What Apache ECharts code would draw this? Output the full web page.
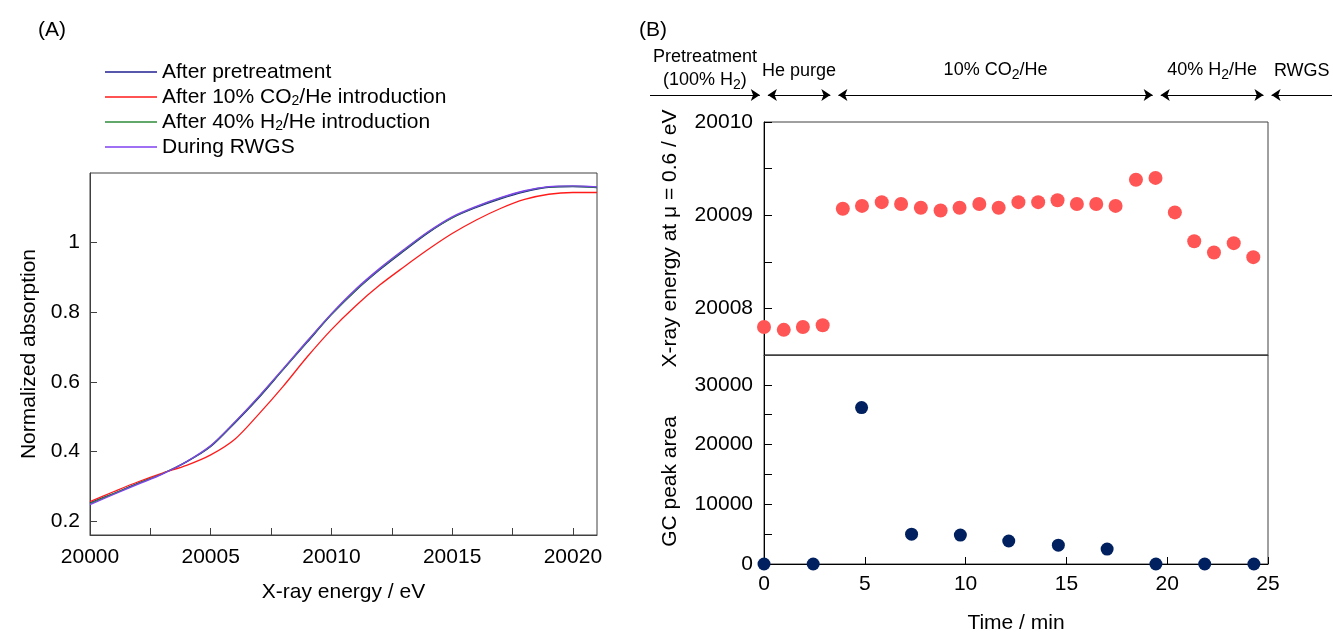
<!DOCTYPE html>
<html>
<head>
<meta charset="utf-8">
<script src="https://cdn.jsdelivr.net/npm/echarts@6/dist/echarts.min.js"></script>
<style>
  html, body { margin: 0; padding: 0; background: #fff; }
  #chart { width: 1333px; height: 635px; }
</style>
</head>
<body>
<div id="chart"></div>
<script>
// (A) XANES spectra at 1 eV steps
const energy = [20000, 20001, 20002, 20003, 20004, 20005, 20006, 20007, 20008, 20009, 20010,
  20011, 20012, 20013, 20014, 20015, 20016, 20017, 20018, 20019, 20020, 20021];
const afterPretreatment = [0.252, 0.280, 0.309, 0.336, 0.370, 0.414, 0.482, 0.555, 0.635, 0.714, 0.793,
  0.862, 0.922, 0.976, 1.028, 1.071, 1.101, 1.126, 1.146, 1.159, 1.161, 1.158];
const afterCO2 = [0.256, 0.285, 0.313, 0.338, 0.360, 0.390, 0.435, 0.508, 0.587, 0.672, 0.750,
  0.818, 0.878, 0.930, 0.980, 1.026, 1.065, 1.098, 1.124, 1.139, 1.144, 1.144];
const afterH2 = [0.250, 0.279, 0.308, 0.336, 0.371, 0.416, 0.484, 0.557, 0.636, 0.716, 0.794,
  0.863, 0.924, 0.978, 1.030, 1.072, 1.103, 1.128, 1.148, 1.160, 1.162, 1.159];
const duringRWGS = [0.247, 0.277, 0.306, 0.335, 0.371, 0.417, 0.485, 0.559, 0.638, 0.718, 0.796,
  0.866, 0.926, 0.980, 1.031, 1.074, 1.104, 1.129, 1.149, 1.161, 1.163, 1.160];

const energyLabels = [20000, 20005, 20010, 20015, 20020];
const energyTicks = [20000, 20002.5, 20005, 20007.5, 20010, 20012.5, 20015, 20017.5, 20020];
const absLabels = [0.2, 0.4, 0.6, 0.8, 1];

// (B) edge energy and GC peak area vs time
const xasTime = [0, 0.98, 1.93, 2.91, 3.91, 4.86, 5.84, 6.8, 7.78, 8.76, 9.7, 10.68, 11.64,
  12.62, 13.6, 14.56, 15.52, 16.48, 17.44, 18.45, 19.42, 20.38, 21.34, 22.32, 23.3, 24.27];
const edgeEnergy = [20007.80, 20007.77, 20007.80, 20007.82, 20009.07, 20009.10, 20009.14, 20009.12,
  20009.08, 20009.05, 20009.08, 20009.12, 20009.08, 20009.14, 20009.14, 20009.16, 20009.12,
  20009.12, 20009.10, 20009.38, 20009.40, 20009.03, 20008.72, 20008.60, 20008.70, 20008.55];
const gcTime = [0, 2.44, 4.84, 7.32, 9.74, 12.14, 14.6, 17.02, 19.44, 21.86, 24.3];
const gcArea = [0, 0, 26200, 5000, 4850, 3850, 3150, 2500, 0, 0, 0];

const timeLabels = [0, 5, 10, 15, 20, 25];
const edgeLabels = [20008, 20009, 20010];
const edgeTicks = [20008, 20008.5, 20009, 20009.5, 20010];
const gcLabels = [0, 10000, 20000, 30000];
const gcTicks = [0, 5000, 10000, 15000, 20000, 25000, 30000];

// gas phases shown on the arrow bar above (B)
const phaseNames = ['Pretreatment\n(100% H2)', 'He purge', '10% CO2/He', '40% H2/He', 'RWGS'];
const phaseStart = [-5.65, 0, 3.5, 19.5, 25];
const phaseEnd = [0, 3.5, 19.5, 25, 28.2];

const font = '"Liberation Sans", Arial, sans-serif';
const subRich = {
  sub: { fontSize: 14, fontFamily: font, color: '#000', verticalAlign: 'bottom', lineHeight: 24 }
};
const withSub = s => s.replace(/(CO|H)2/g, '$1{sub|2}');
const plain = v => String(v);
const axisColor = '#404040';
const fs = 21;

const chart = echarts.init(document.getElementById('chart'));

function tickAxis(extra) {
  return Object.assign({
    type: 'value',
    axisLine: { show: true, lineStyle: { color: axisColor, width: 1 } },
    splitLine: { show: false },
    nameLocation: 'middle',
    nameTextStyle: { fontSize: fs, color: '#000', fontFamily: font }
  }, extra);
}

const pad = 0.2;
const arrowLines = phaseNames.map((name, i) => {
  const first = i === 0, last = i === phaseNames.length - 1;
  return [
    {
      coord: [phaseStart[i] + (first ? 0 : pad), 0.5],
      symbol: first ? 'none' : 'arrow',
      label: {
        show: true,
        position: 'insideMiddleTop',
        distance: first ? 2.5 : 13,
        formatter: withSub(name),
        fontSize: 18,
        lineHeight: 22,
        color: '#000',
        fontFamily: font,
        rich: subRich
      }
    },
    {
      coord: [phaseEnd[i] - (last ? 0 : pad), 0.5],
      symbol: last ? 'none' : 'arrow'
    }
  ];
});

const option = {
  animation: false,
  backgroundColor: '#fff',
  textStyle: { fontFamily: font },
  legend: {
    orient: 'vertical',
    left: 100,
    top: 56,
    icon: 'rect',
    itemWidth: 52,
    itemHeight: 1.5,
    itemGap: 3,
    data: ['After pretreatment', 'After 10% CO2/He introduction', 'After 40% H2/He introduction', 'During RWGS'],
    formatter: name => withSub(name),
    textStyle: { fontSize: fs, color: '#000', fontFamily: font, lineHeight: 22,
      rich: { sub: { fontSize: 14, fontFamily: font, color: '#000', verticalAlign: 'bottom', lineHeight: 22 } } }
  },
  graphic: [
    { type: 'text', left: 38, top: 20, style: { text: '(A)', fontSize: fs, fontFamily: font, fill: '#000' } },
    { type: 'text', left: 639, top: 20, style: { text: '(B)', fontSize: fs, fontFamily: font, fill: '#000' } }
  ],
  grid: [
    { left: 90, top: 173, width: 507, height: 362, show: true, borderColor: axisColor, borderWidth: 1 },
    { left: 764, top: 122, width: 504, height: 233, show: true, borderColor: axisColor, borderWidth: 1 },
    { left: 764, top: 355, width: 504, height: 212, show: true, borderColor: axisColor, borderWidth: 1 },
    { left: 650, top: 80, width: 683, height: 30 }
  ],
  xAxis: [
    tickAxis({
      gridIndex: 0, min: 20000, max: 20021,
      axisTick: { inside: true, length: 7, customValues: energyTicks, lineStyle: { color: axisColor } },
      axisLabel: { customValues: energyLabels, formatter: plain, fontSize: fs, color: '#000', margin: 12, fontFamily: font },
      name: 'X-ray energy / eV', nameGap: 47
    }),
    tickAxis({
      gridIndex: 1, min: 0, max: 25,
      axisTick: { show: false }, axisLabel: { show: false }
    }),
    tickAxis({
      gridIndex: 2, min: 0, max: 25,
      axisLine: { show: true, lineStyle: { color: '#000', width: 1 } },
      axisTick: { inside: true, length: 7, customValues: timeLabels, lineStyle: { color: '#000' } },
      axisLabel: { customValues: timeLabels, formatter: plain, fontSize: fs, color: '#000', margin: 10, fontFamily: font },
      name: 'Time / min', nameGap: 49
    }),
    { gridIndex: 3, type: 'value', min: -5.65, max: 28.25, show: false }
  ],
  yAxis: [
    tickAxis({
      gridIndex: 0, min: 0.16, max: 1.2,
      axisTick: { inside: true, length: 7, customValues: absLabels, lineStyle: { color: axisColor } },
      axisLabel: { customValues: absLabels, formatter: plain, fontSize: fs, color: '#000', margin: 10, fontFamily: font },
      name: 'Normalized absorption', nameGap: 50
    }),
    tickAxis({
      gridIndex: 1, min: 20007.5, max: 20010,
      axisLine: { show: true, lineStyle: { color: '#000', width: 1 } },
      axisTick: { inside: true, length: 8, customValues: edgeTicks, lineStyle: { color: '#000' } },
      axisLabel: { customValues: edgeLabels, formatter: plain, fontSize: fs, color: '#000', margin: 11, fontFamily: font },
      name: 'X-ray energy at μ = 0.6 / eV', nameGap: 83
    }),
    tickAxis({
      gridIndex: 2, min: 0, max: 35000,
      axisLine: { show: true, lineStyle: { color: '#000', width: 1 } },
      axisTick: { inside: true, length: 8, customValues: gcTicks, lineStyle: { color: '#000' } },
      axisLabel: { customValues: gcLabels, formatter: plain, fontSize: fs, color: '#000', margin: 11, fontFamily: font },
      name: 'GC peak area', nameGap: 83,
      nameTextStyle: { fontSize: fs, color: '#000', fontFamily: font, padding: [0, 44, 0, 0] }
    }),
    { gridIndex: 3, type: 'value', min: 0, max: 1, show: false }
  ],
  series: [
    { name: 'After pretreatment', type: 'line', xAxisIndex: 0, yAxisIndex: 0, showSymbol: false, smooth: 0.3,
      data: energy.map((e, i) => [e, afterPretreatment[i]]), color: '#1f1f8f', lineStyle: { width: 1.3 } },
    { name: 'After 10% CO2/He introduction', type: 'line', xAxisIndex: 0, yAxisIndex: 0, showSymbol: false, smooth: 0.3,
      data: energy.map((e, i) => [e, afterCO2[i]]), color: '#ff1a1a', lineStyle: { width: 1.3 } },
    { name: 'After 40% H2/He introduction', type: 'line', xAxisIndex: 0, yAxisIndex: 0, showSymbol: false, smooth: 0.3,
      data: energy.map((e, i) => [e, afterH2[i]]), color: '#2e8b3a', lineStyle: { width: 1.3 } },
    { name: 'During RWGS', type: 'line', xAxisIndex: 0, yAxisIndex: 0, showSymbol: false, smooth: 0.3,
      data: energy.map((e, i) => [e, duringRWGS[i]]), color: '#8040f0', lineStyle: { width: 1.3 } },
    { name: 'edge', type: 'scatter', xAxisIndex: 1, yAxisIndex: 1, clip: false,
      symbolSize: 14, itemStyle: { color: '#ff5555', opacity: 1 },
      data: xasTime.map((t, i) => [t, edgeEnergy[i]]), z: 5 },
    { name: 'gc', type: 'scatter', xAxisIndex: 2, yAxisIndex: 2, clip: false,
      symbolSize: 13, itemStyle: { color: '#00205f', opacity: 1 },
      data: gcTime.map((t, i) => [t, gcArea[i]]), z: 5 },
    { name: 'phases', type: 'line', xAxisIndex: 3, yAxisIndex: 3, data: [], silent: true,
      markLine: {
        silent: true,
        symbolSize: 9,
        lineStyle: { color: '#000', width: 1.2, type: 'solid' },
        data: arrowLines
      }
    }
  ]
};

chart.setOption(option);
</script>
</body>
</html>
